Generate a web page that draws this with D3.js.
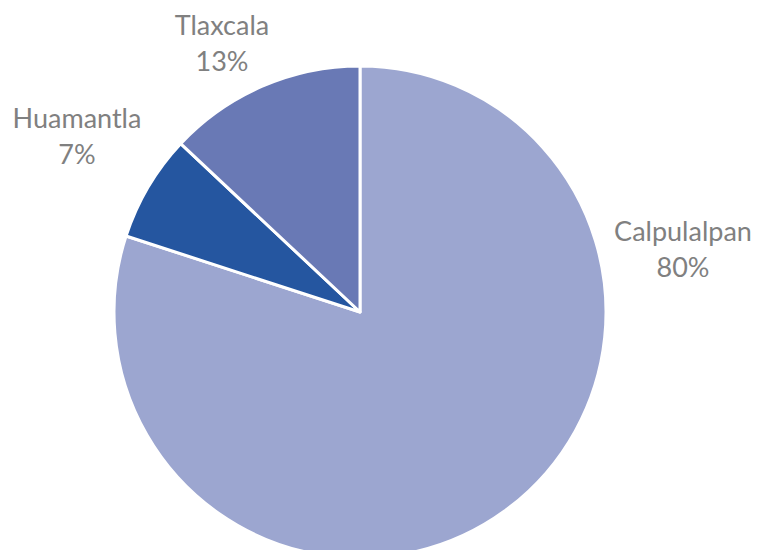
<!DOCTYPE html>
<html>
<head>
<meta charset="utf-8">
<script src="https://cdn.jsdelivr.net/npm/d3@7"></script>
<style>
  html, body { margin: 0; padding: 0; background: #fff; }
  svg { display: block; }
</style>
</head>
<body>
<svg id="chart" width="758" height="550"></svg>
<script>
// Share of records by municipality
const categories = ["Calpulalpan", "Huamantla", "Tlaxcala"];
const values = [80, 7, 13];
const percentLabels = ["80%", "7%", "13%"];
const colors = ["#9CA6D0", "#2556A0", "#6979B5"];

// Label anchor: centre x and baseline of the first line
const labelPos = [[683, 241], [77, 128], [222, 35]];
const lineGap = 36;

const width = 758, height = 550;
const cx = 360, cy = 312, radius = 246;

const svg = d3.select("#chart");
const g = svg.append("g").attr("transform", `translate(${cx},${cy})`);

const pie = d3.pie().sort(null).value(d => d.value);
const arc = d3.arc().innerRadius(0).outerRadius(radius);

const data = categories.map((c, i) => ({ name: c, value: values[i], label: percentLabels[i], color: colors[i] }));

g.selectAll("path.slice")
  .data(pie(data))
  .join("path")
  .attr("class", "slice")
  .attr("d", arc)
  .attr("fill", d => d.data.color)
  .attr("stroke", "#ffffff")
  .attr("stroke-width", 3)
  .attr("stroke-linejoin", "round");

const labels = svg.selectAll("text.lbl")
  .data(data)
  .join("text")
  .attr("class", "lbl")
  .attr("text-anchor", "middle")
  .attr("font-family", "Lato, 'Open Sans', sans-serif")
  .attr("font-size", 27)
  .attr("fill", "#808080");

labels.append("tspan")
  .attr("x", (d, i) => labelPos[i][0])
  .attr("y", (d, i) => labelPos[i][1])
  .text(d => d.name);
labels.append("tspan")
  .attr("x", (d, i) => labelPos[i][0])
  .attr("y", (d, i) => labelPos[i][1] + lineGap)
  .text(d => d.label);
</script>
</body>
</html>
